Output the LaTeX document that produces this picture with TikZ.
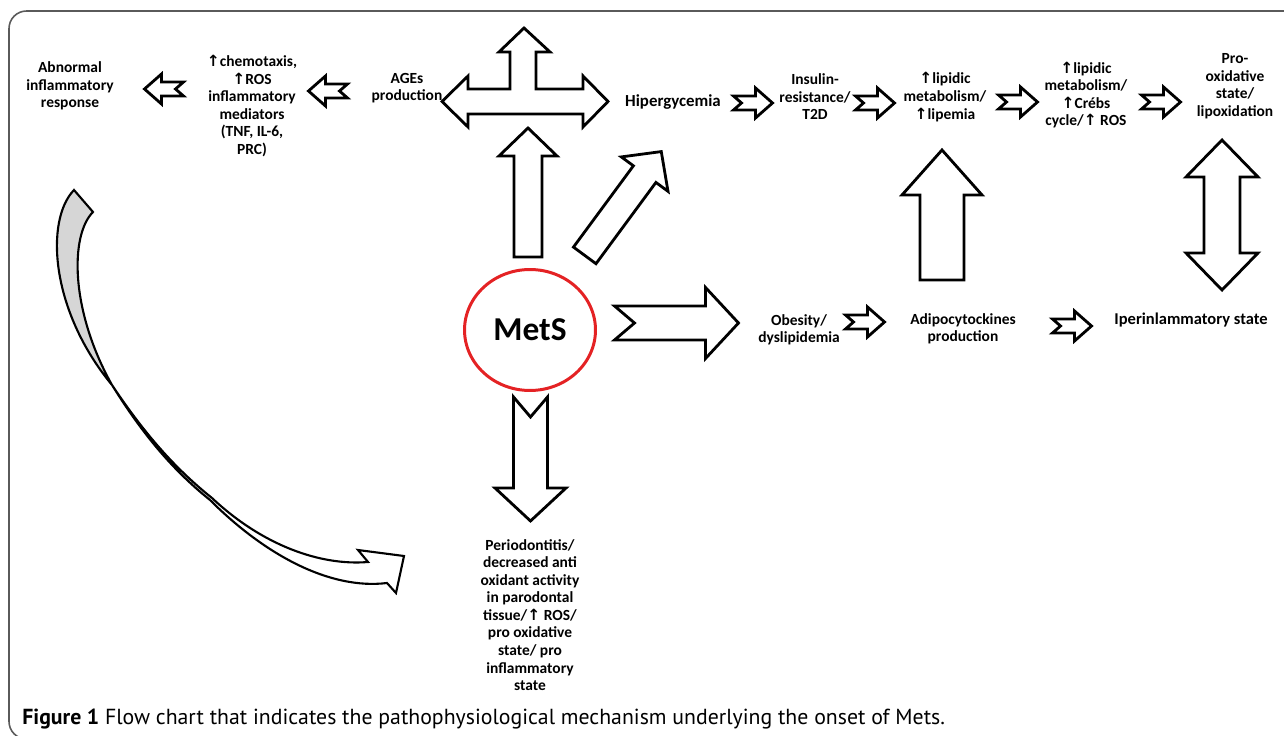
\documentclass[tikz,border=0pt]{standalone}
\usepackage{fontspec}
\setmainfont{Carlito}
\newfontfamily\capfont{PT Sans}
\newfontfamily\symfont{DejaVu Sans}
\usetikzlibrary{shapes.geometric}
\definecolor{metsred}{RGB}{228,34,36}
\definecolor{framegray}{RGB}{90,90,90}
\definecolor{ribbongray}{RGB}{214,214,214}
\newcommand{\incr}{{\symfont\bfseries ↑}}
\tikzset{
  every node/.style={font=\bfseries\fontsize{8.8}{10}\selectfont, align=center, inner sep=0pt},
  blockline/.style={draw=black, line width=1.6pt, fill=white, line join=miter},
  ribbon/.style={draw=black, line width=1.2pt, line join=miter},
  smallarrow/.pic={
    \draw[blockline] (-19.5,-7) -- (2.5,-7) -- (2.5,-15) -- (19.5,0) -- (2.5,15) -- (2.5,7) -- (-19.5,7) -- (-11.5,0) -- cycle;
  },
  bignotch/.pic={
    \draw[blockline] (-62,-17) -- (29,-17) -- (29,-35.5) -- (62,0) -- (29,35.5) -- (29,17) -- (-62,17) -- (-42,0) -- cycle;
  },
  plainarrow/.pic={
    \draw[blockline] (-64.5,-14) -- (36.5,-14) -- (36.5,-29) -- (64.5,0) -- (36.5,29) -- (36.5,14) -- (-64.5,14) -- cycle;
  },
  widearrow/.pic={
    \draw[blockline] (-65,-22) -- (20,-22) -- (20,-40) -- (65,0) -- (20,40) -- (20,22) -- (-65,22) -- cycle;
  },
  doublearrow/.pic={
    \draw[blockline] (-75,0) -- (-38,-36) -- (-38,-18) -- (38,-18) -- (38,-36) -- (75,0) -- (38,36) -- (38,18) -- (-38,18) -- (-38,36) -- cycle;
  }
}

\begin{document}
\begin{tikzpicture}[x=0.02cm, y=-0.02cm]
  \useasboundingbox (0,0) rectangle (1284,736);
  % Frame
  \begin{scope}
    \clip (0,0) rectangle (1284,736);
    \draw[framegray, line width=0.9pt, rounded corners=10] (1300,11) -- (9,11) -- (9,739) -- (60,739);
  \end{scope}

  % Top row
  \node (abnormal) at (70,86) {Abnormal\\inflammatory\\response};
  \node (mediators) at (252,106) {\incr chemotaxis,\\\incr ROS\\inflammatory\\mediators\\(TNF, IL-6,\\PRC)};
  \node (ages) at (407,88) {AGEs\\production};
  \node[font=\bfseries\fontsize{9.6}{11}\selectfont] (hyper) at (673,102) {Hipergycemia};
  \node (insulin) at (815,97) {Insulin-\\resistance/\\T2D};
  \node (lipemia) at (945,97) {\incr lipidic\\metabolism/\\\incr lipemia};
  \node (krebs) at (1086,95) {\incr lipidic\\metabolism/\\\incr Crébs\\cycle/\incr\ ROS};
  \node (prox) at (1235,86) {Pro-\\oxidative\\state/\\lipoxidation};

  % Middle row
  \node[ellipse, draw=metsred, line width=1.7pt, minimum width=2.62cm, minimum height=2.42cm,
        font=\bfseries\fontsize{19}{22}\selectfont] (mets) at (530,330) {MetS};
  \node (obesity) at (799,330) {Obesity/\\dyslipidemia};
  \node (adipo) at (963,329) {Adipocytockines\\production};
  \node[font=\bfseries\fontsize{9.4}{11}\selectfont] (iperinfl) at (1191,320) {Iperinlammatory state};

  % Bottom
  \node (perio) at (530,615) {Periodontitis/\\decreased anti\\oxidant activity\\in parodontal\\tissue/\incr\ ROS/\\pro oxidative\\state/ pro\\inflammatory\\state};

  % Small arrows
  \pic[rotate=180] at (164,89) {smallarrow};
  \pic[rotate=180] at (328,91) {smallarrow};
  \pic at (753,103) {smallarrow};
  \pic at (875,103) {smallarrow};
  \pic at (1018,102) {smallarrow};
  \pic at (1161,102) {smallarrow};
  \pic at (865,322) {smallarrow};
  \pic at (1072,326) {smallarrow};

  % Arrows out of MetS
  \pic at (676.5,323) {bignotch};
  \pic[rotate=-90] at (530.5,459) {bignotch};
  \pic[rotate=90] at (528,192.5) {plainarrow};
  \pic[rotate=53.6] at (623,203.5) {plainarrow};
  \draw[blockline] (442,101.5) -- (468,76) -- (468,89) -- (510,89) -- (510,52) -- (499,52) -- (524,28)
    -- (550,52) -- (536,52) -- (536,89) -- (583,89) -- (583,76) -- (608,101.5) -- (583,127)
    -- (583,114) -- (468,114) -- (468,127) -- cycle;

  % Vertical arrows on the right
  \pic[rotate=90] at (942,215) {widearrow};
  \pic[rotate=90] at (1222,215) {doublearrow};

  % Curved arrow
  \draw[ribbon, fill=ribbongray] (74,190) .. controls (45,220) and (50,310) .. (112,385)
    .. controls (70,310) and (70,235) .. (93,212) -- cycle;
  \draw[ribbon, fill=white] (112,385) .. controls (140,430) and (170,468) .. (210,500)
    .. controls (265,555) and (330,590) .. (387,583)
    -- (396,593) -- (404,556) -- (358,550) -- (368,562)
    .. controls (320,566) and (262,545) .. (212,498)
    .. controls (172,466) and (142,430) .. (112,385) -- cycle;

  % Caption
  \node[anchor=base west, align=left, font=\capfont\mdseries\fontsize{12.4}{14}\selectfont] (caption) at (22,724)
    {{\bfseries Figure 1} Flow chart that indicates the pathophysiological mechanism underlying the onset of Mets.};
\end{tikzpicture}
\end{document}
